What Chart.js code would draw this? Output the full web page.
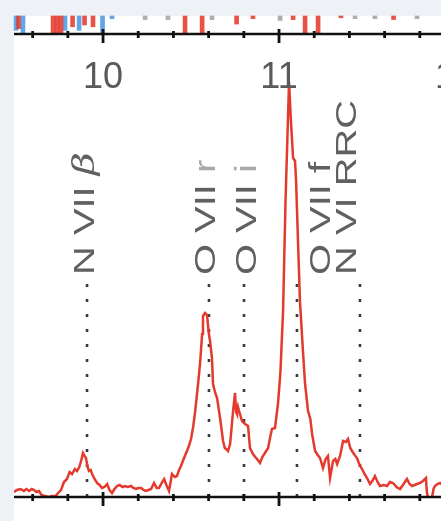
<!DOCTYPE html>
<html>
<head>
<meta charset="utf-8">
<script src="https://cdn.jsdelivr.net/npm/chart.js@4.4.1/dist/chart.umd.min.js"></script>
<style>
  html, body { margin: 0; padding: 0; background: #eef2f6; overflow: hidden; }
  #panel { position: absolute; left: 14px; top: 16px; width: 427px; height: 505px; background: #fff; }
  #spec { position: absolute; left: 0; top: 0; }
</style>
</head>
<body>
<div id="panel"></div>
<canvas id="spec" width="441" height="521"></canvas>
<script>
  /* spectrum (wavelength, flux) */
  const waveSpec = [
    9.494, 9.510, 9.532, 9.550, 9.565, 9.580, 9.595, 9.608, 9.622, 9.636, 9.650, 9.670, 9.690, 9.710, 9.730,
    9.745, 9.761, 9.778, 9.795, 9.810, 9.824, 9.840, 9.852, 9.865, 9.875, 9.886, 9.895, 9.903, 9.912, 9.920,
    9.930, 9.938, 9.952, 9.966, 9.980, 9.994, 10.008, 10.023, 10.037, 10.051, 10.065, 10.080, 10.095, 10.110,
    10.125, 10.140, 10.159, 10.172, 10.188, 10.200, 10.216, 10.230, 10.244, 10.258, 10.273, 10.290, 10.305,
    10.318, 10.333, 10.347, 10.360, 10.375, 10.392, 10.408, 10.420, 10.432, 10.443, 10.458, 10.472, 10.486,
    10.500, 10.512, 10.523, 10.532, 10.540, 10.552, 10.563, 10.568, 10.580, 10.591, 10.600, 10.608, 10.619,
    10.625, 10.636, 10.648, 10.665, 10.682, 10.692, 10.699, 10.710, 10.722, 10.739, 10.750, 10.756, 10.761,
    10.767, 10.773, 10.790, 10.807, 10.824, 10.835, 10.852, 10.865, 10.875, 10.892, 10.905, 10.920, 10.938,
    10.950, 10.960, 10.977, 10.994, 11.008, 11.023, 11.037, 11.057, 11.068, 11.080, 11.091, 11.097, 11.108,
    11.119, 11.136, 11.148, 11.165, 11.178, 11.188, 11.205, 11.220, 11.233, 11.250, 11.265, 11.278, 11.290,
    11.307, 11.320, 11.330, 11.347, 11.364, 11.380, 11.392, 11.405, 11.415, 11.430, 11.443, 11.458, 11.472,
    11.486, 11.500, 11.517, 11.530, 11.545, 11.560, 11.574, 11.595, 11.614, 11.630, 11.648, 11.668, 11.688,
    11.708, 11.727, 11.742, 11.756, 11.770, 11.784, 11.800, 11.818, 11.835, 11.840, 11.847, 11.869, 11.878,
    11.886, 11.900, 11.915, 11.932
  ];
  const fluxSpec = [
    0.5, 0.7, 0.8, 0.6, 0.8, 0.6, 0.8, 0.7, 0.5, 0.6, 0.2, 0.1, 0.0, 0.1, 0.1,
    0.4, 0.7, 1.5, 1.8, 2.5, 2.3, 2.8, 2.6, 3.0, 3.6, 4.4, 4.1, 3.9, 3.0, 2.6,
    2.7, 2.3, 1.8, 1.4, 1.2, 0.9, 1.0, 1.3, 0.7, 0.4, 0.8, 1.1, 1.2, 1.0,
    1.1, 1.0, 1.1, 0.9, 0.8, 0.9, 0.9, 0.7, 0.6, 0.7, 0.8, 1.4, 0.9,
    0.9, 1.4, 1.8, 1.2, 0.6, 2.3, 2.0, 2.1, 2.7, 3.1, 3.8, 4.4, 5.0,
    5.8, 7.0, 8.5, 10.0, 11.3, 13.5, 16.3, 18.1, 18.4, 18.2, 16.5, 15.6, 13.9,
    11.3, 10.5, 9.9, 7.9, 5.6, 4.9, 4.8, 4.6, 5.3, 8.6, 10.4, 8.5, 8.3,
    9.0, 8.6, 7.6, 7.3, 7.1, 4.9, 4.3, 4.0, 3.8, 3.4, 4.0, 4.4, 4.9,
    6.0, 6.8, 6.9, 9.3, 12.5, 18.6, 29.6, 41.5, 37.5, 33.9, 33.6, 31.6, 25.5,
    19.6, 14.6, 11.3, 8.6, 7.8, 6.3, 4.6, 4.2, 3.9, 2.9, 3.8, 4.1, 1.9,
    3.6, 3.8, 3.3, 4.1, 5.6, 5.5, 5.8, 4.9, 4.6, 4.2, 3.9, 3.2, 2.8,
    2.3, 1.9, 1.3, 1.6, 2.1, 1.5, 1.1, 1.2, 1.1, 1.5, 1.4, 1.0, 0.8,
    1.3, 1.8, 1.3, 1.1, 1.2, 1.3, 1.4, 1.6, 1.9, 0.5, -0.1, -0.1, 0.8,
    1.1, 1.3, 1.4, 1.2
  ];

  /* line identifications */
  const lineWaves  = [9.909, 10.602, 10.801, 11.102, 11.460];
  const lineTop    = 21.3;
  const labelWaves = [9.903, 10.588, 10.824, 11.244, 11.389];
  const lineIons   = ['N VII', 'O VII', 'O VII', 'O VII', 'N VI'];
  const lineTags   = ['\u03B2', 'r', 'i', 'f', 'RRC'];

  /* residuals of the panel above (only the bottom edge shows) */
  const resRedWave  = [9.520, 9.716, 9.739, 9.761, 9.827, 9.895, 9.943, 10.466, 10.563, 10.759, 10.852, 11.080, 11.148, 11.222, 11.352, 11.651];
  const resRedVal   = [0.7, 1.0, 1.0, 1.0, 0.6, 0.5, 0.6, 1.0, 1.0, 0.45, 0.15, 0.2, 1.0, 1.0, 0.1, 0.2];
  const resBlueWave = [9.506, 9.545, 9.784, 9.864, 9.997, 10.051];
  const resBlueVal  = [0.8, 1.0, 0.8, 0.8, 1.0, 0.15];
  const resGrayWave = [10.239, 10.369, 10.619, 11.006, 11.432, 11.545, 11.784];
  const resGrayVal  = [0.2, 0.2, 0.2, 0.25, 0.15, 0.15, 0.15];

  const tickLabels = [10, 11, 12];
  const minorStep = 0.2;

  let dots = lineWaves.map(w => ({
    type: 'line',
    data: [{ x: w, y: lineTop }, { x: w, y: 0 }],
    borderColor: '#3a3a3a',
    borderWidth: 2.6,
    borderDash: [3, 12],
    pointRadius: 0
  }));

  function resBars(waves, vals, colour) {
    return {
      type: 'bar',
      yAxisID: 'yRes',
      data: waves.map((w, i) => ({ x: w, y: [0, vals[i]] })),
      backgroundColor: colour,
      barThickness: 4,
      grouped: false,
      clip: false
    };
  }

  // axes, ticks and the line labels
  const framePlugin = {
    id: 'frame',
    afterDatasetsDraw(chart) {
      const ctx = chart.ctx;
      const a = chart.chartArea;
      const x = chart.scales.x;
      ctx.save();
      ctx.strokeStyle = '#111';
      ctx.lineWidth = 2.5;
      [a.top, a.bottom].forEach(y => {
        ctx.beginPath();
        ctx.moveTo(a.left, y);
        ctx.lineTo(a.right, y);
        ctx.stroke();
      });
      ctx.lineWidth = 2.8;
      for (let k = Math.ceil(x.min / minorStep - 1e-6); k * minorStep <= x.max + 1e-9; k++) {
        const v = k * minorStep;
        const px = x.getPixelForValue(v);
        const major = Math.abs(v - Math.round(v)) < 1e-6;
        const up = major ? 5 : 3, down = major ? 9 : 4;
        [a.top, a.bottom].forEach(y => {
          ctx.beginPath();
          ctx.moveTo(px, y - up);
          ctx.lineTo(px, y + down);
          ctx.stroke();
        });
      }

      ctx.fillStyle = '#5a5a5a';
      ctx.font = '36px "Liberation Sans"';
      ctx.textAlign = 'center';
      ctx.textBaseline = 'alphabetic';
      tickLabels.forEach(t => ctx.fillText(String(t), x.getPixelForValue(t), a.top + 54));

      lineIons.forEach((ion, i) => {
        ctx.save();
        ctx.translate(x.getPixelForValue(labelWaves[i]), 275);
        ctx.rotate(-Math.PI / 2);
        ctx.scale(1.33, 1);
        ctx.textAlign = 'left';
        ctx.textBaseline = 'middle';
        ctx.font = '30px "Liberation Sans"';
        ctx.fillStyle = '#606060';
        const head = ion + ' ';
        ctx.fillText(head, 0, 0);
        const w = ctx.measureText(head).width;
        const tag = lineTags[i];
        if (tag === '\u03B2') {
          ctx.font = 'italic 30px "DejaVu Serif"';
        } else if (tag === 'r' || tag === 'i') {
          ctx.fillStyle = '#a8a8a8';
        }
        ctx.fillText(tag, w, 0);
        ctx.restore();
      });
      ctx.restore();
    }
  };

  let chart = new Chart(document.getElementById('spec').getContext('2d'), {
    type: 'line',
    data: {
      datasets: [
        {
          data: waveSpec.map((w, i) => ({ x: w, y: fluxSpec[i] })),
          borderColor: '#e4392c',
          borderWidth: 2.5,
          pointRadius: 0,
          tension: 0
        },
        ...dots,
        resBars(resRedWave, resRedVal, 'rgba(228,52,40,0.85)'),
        resBars(resBlueWave, resBlueVal, 'rgba(70,150,230,0.85)'),
        resBars(resGrayWave, resGrayVal, 'rgba(120,120,120,0.6)')
      ]
    },
    options: {
      responsive: false,
      animation: false,
      layout: { padding: { left: 14, top: 34, right: 0, bottom: 24 } },
      plugins: { legend: { display: false }, tooltip: { enabled: false } },
      scales: {
        x: { type: 'linear', display: false, offset: false, grid: { offset: false }, min: 9.494, max: 11.9205 },
        y: { display: false, min: 0, max: 46.3 },
        yRes: { display: false, reverse: true, min: 1, max: 26.7 }
      }
    },
    plugins: [framePlugin]
  });
</script>
</body>
</html>
